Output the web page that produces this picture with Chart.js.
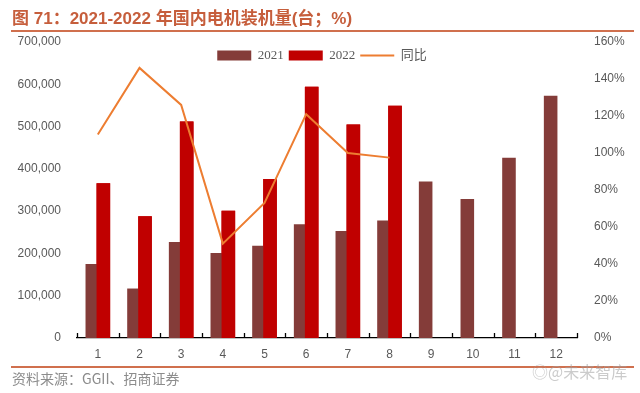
<!DOCTYPE html>
<html>
<head>
<meta charset="utf-8">
<script src="https://cdn.jsdelivr.net/npm/chart.js@4/dist/chart.umd.min.js"></script>
<style>
  html, body { margin: 0; padding: 0; background: #fff; }
  #wrap { position: relative; width: 640px; height: 393px; overflow: hidden; }
  #c { position: absolute; left: 0; top: 0; }
  .title { position: absolute; left: 12px; top: 8px; font: bold 17px "Liberation Sans", "Noto Sans CJK SC", sans-serif; color: #C65E3C; line-height: 22px; white-space: nowrap; }
  .rule1 { position: absolute; left: 11px; width: 623px; top: 30px; height: 2px; background: #D0704E; }
  .rule2 { position: absolute; left: 11px; width: 623px; top: 366px; height: 1.5px; background: #D0704E; }
  .foot { position: absolute; left: 12px; top: 369px; font: 14px "Noto Sans CJK SC", sans-serif; color: #8c8c8c; line-height: 18px; white-space: nowrap; }
  .wm { position: absolute; left: 532px; top: 361px; font: 16px "Noto Sans CJK SC", sans-serif; color: rgba(160,160,160,0.55); line-height: 20px; white-space: nowrap; }
</style>
</head>
<body>
<div id="wrap">
  <canvas id="c" width="640" height="393"></canvas>
  <div class="title">图 71：2021-2022 年国内电机装机量(台；%)</div>
  <div class="rule1"></div>
  <div class="rule2"></div>
  <div class="foot">资料来源：GGII、招商证券</div>
  <div class="wm">◎@未来智库</div>
</div>
<script>
const months = ['1','2','3','4','5','6','7','8','9','10','11','12'];
const installs2021 = [175000,117000,227000,201000,218000,269000,253000,278000,370000,329000,426000,573000];
const installs2022 = [366000,288000,512000,301000,376000,594000,505000,549000,null,null,null,null];
const yoyPct = [110,146,126,51,73,121,100,97.5,null,null,null,null];
const seriesNames = ['2021','2022','同比'];

const tickFont = { family: '"Liberation Sans", Arial, sans-serif', size: 12 };
const tickColor = '#595959';

const helpers = {
  id: 'helpers',
  beforeLayout(chart) {
    if (chart.legend && !chart.legend._forcedH) {
      chart.legend.isHorizontal = () => true;
      chart.legend._forcedH = true;
    }
  },
  afterLayout(chart) {
    const L = chart.legend, a = chart.chartArea;
    if (L) {
      L.left = a.left;
      L.right = a.right - 10;
      L.top = a.top + 2;
      L.bottom = L.top + L.height;
    }
  },
  afterDatasetDraw(chart, args) {
    // paint the 2022 bars over the 2021 bars where they overlap
    if (args.index === 0) {
      chart.getDatasetMeta(1).controller.draw();
    }
  },
  afterDatasetsDraw(chart) {
    const x = chart.scales.x;
    const n = x.ticks.length;
    const step = (x.right - x.left) / n;
    const ctx = chart.ctx;
    ctx.save();
    ctx.strokeStyle = '#000';
    ctx.lineWidth = 1.3;
    ctx.beginPath();
    for (let k = 0; k <= n; k++) {
      const px = Math.round(x.left + k * step) + 0.5;
      ctx.moveTo(px, x.top);
      ctx.lineTo(px, x.top - 5);
    }
    ctx.stroke();
    ctx.restore();
  }
};

new Chart(document.getElementById('c'), {
  data: {
    labels: months,
    datasets: [
      { type: 'bar', label: seriesNames[0], data: installs2021, backgroundColor: '#843C39', yAxisID: 'y', order: 0,
        categoryPercentage: 0.53, barPercentage: 1.23 },
      { type: 'bar', label: seriesNames[1], data: installs2022, backgroundColor: '#C00000', yAxisID: 'y', order: 0,
        categoryPercentage: 0.53, barPercentage: 1.23 },
      { type: 'line', label: seriesNames[2], data: yoyPct, borderColor: '#ED7D31', backgroundColor: '#ED7D31', borderWidth: 2,
        pointRadius: 0, pointHoverRadius: 0, tension: 0, yAxisID: 'y1', order: -1, spanGaps: false }
    ]
  },
  options: {
    responsive: false,
    animation: false,
    layout: { padding: { top: 42, left: 0, right: 0, bottom: 0 } },
    plugins: {
      tooltip: { enabled: false },
      legend: {
        position: 'chartArea',
        align: 'center',
        labels: {
          usePointStyle: true,
          pointStyleWidth: 34,
          boxHeight: 10,
          padding: 5,
          color: '#595959',
          font: { family: '"Liberation Serif", "Noto Sans CJK SC", serif', size: 13 },
          sort: (a, b) => a.datasetIndex - b.datasetIndex,
          generateLabels(chart) {
            const items = Chart.defaults.plugins.legend.labels.generateLabels(chart);
            items.forEach(it => {
              if (it.datasetIndex === 2) {
                it.pointStyle = 'line'; it.lineWidth = 2; it.strokeStyle = '#ED7D31';
              } else {
                it.pointStyle = 'rect'; it.lineWidth = 0; it.strokeStyle = it.fillStyle;
              }
            });
            return items;
          }
        }
      }
    },
    scales: {
      x: {
        grid: { display: true, drawOnChartArea: false, drawTicks: false },
        border: { display: true, color: '#000', width: 1.3 },
        ticks: { color: tickColor, font: tickFont, padding: 9 },
        afterFit(s) { s.height = 55; }
      },
      y: {
        position: 'left',
        min: 0, max: 700000,
        grid: { display: false },
        border: { display: false },
        ticks: { stepSize: 100000, color: tickColor, font: tickFont, padding: 8,
          callback: v => v.toLocaleString('en-US') },
        afterFit(s) { s.width = 77; }
      },
      y1: {
        position: 'right',
        min: 0, max: 160,
        grid: { display: false },
        border: { display: false },
        ticks: { stepSize: 20, color: tickColor, font: tickFont, padding: 9,
          callback: v => v + '%' },
        afterFit(s) { s.width = 63; }
      }
    }
  },
  plugins: [helpers]
});
</script>
</body>
</html>
